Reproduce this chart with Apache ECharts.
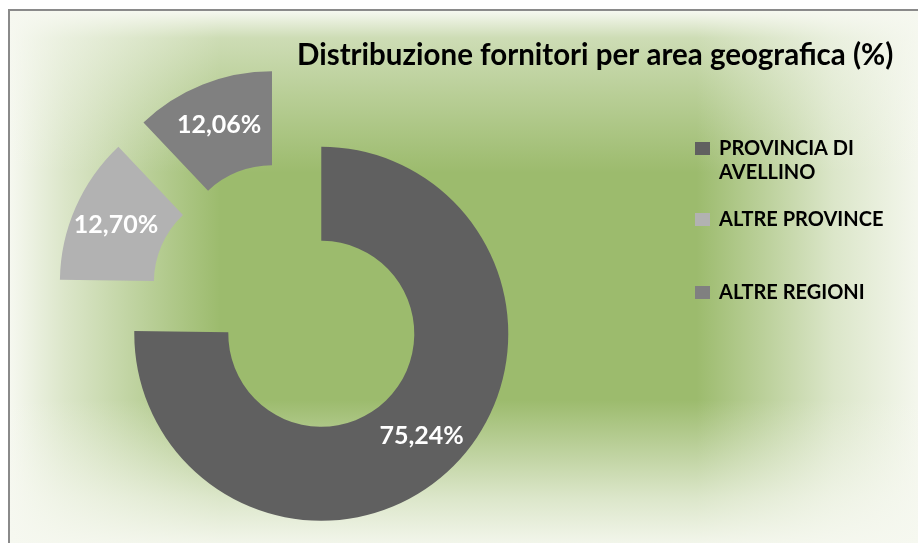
<!DOCTYPE html>
<html>
<head>
<meta charset="utf-8">
<script src="https://cdn.jsdelivr.net/npm/echarts@6/dist/echarts.min.js"></script>
<style>
  html, body { margin: 0; padding: 0; background: #ffffff; }
</style>
</head>
<body>

<div id="main" style="width: 918px;height:543px;"></div>

<script type="text/javascript">
    // dati del grafico
    var categorie = ['PROVINCIA DI AVELLINO', 'ALTRE PROVINCE', 'ALTRE REGIONI'];
    var valori = [75.24, 12.70, 12.06];
    var colori = ['#606060', '#b2b2b2', '#808080'];

    var bianco = function (a) { return 'rgba(246,248,240,' + a + ')'; };

    var myChart = echarts.init(document.getElementById('main'));

    var option = {
        animation: false,
        backgroundColor: '#ffffff',
        title: {
            text: 'Distribuzione fornitori per area geografica (%)',
            left: 297,
            top: 40,
            padding: 0,
            textStyle: {
                fontFamily: 'Lato',
                fontWeight: 'bold',
                fontSize: 29.5,
                color: '#000000'
            }
        },
        graphic: [
            {
                type: 'rect',
                z: -10,
                shape: {x: 10, y: 11, width: 915, height: 540},
                style: {fill: '#9cbb6d'}
            },
            {
                type: 'rect',
                z: -9,
                shape: {x: 10, y: 11, width: 915, height: 540},
                style: {
                    fill: new echarts.graphic.LinearGradient(0, 0, 1, 0, [
                        {offset: 0, color: bianco(1)},
                        {offset: 0.06, color: bianco(0.7)},
                        {offset: 0.23, color: bianco(0)},
                        {offset: 0.75, color: bianco(0)},
                        {offset: 0.9, color: bianco(0.7)},
                        {offset: 1, color: bianco(1)}
                    ])
                }
            },
            {
                type: 'rect',
                z: -8,
                shape: {x: 10, y: 11, width: 915, height: 540},
                style: {
                    fill: new echarts.graphic.LinearGradient(0, 0, 0, 1, [
                        {offset: 0, color: bianco(1)},
                        {offset: 0.05, color: bianco(0.55)},
                        {offset: 0.3, color: bianco(0)},
                        {offset: 0.72, color: bianco(0)},
                        {offset: 0.9, color: bianco(0.7)},
                        {offset: 1, color: bianco(1)}
                    ])
                }
            },
            {
                type: 'rect',
                z: -7,
                shape: {x: 9, y: 10, width: 1000, height: 1000},
                style: {fill: 'none', stroke: '#8a8a8a', lineWidth: 2}
            }
        ],
        legend: [0, 1, 2].map(function (i) {
            var tops = [112.5, 207.5, 280.5];
            return {
                data: [categorie[i]],
                left: 695,
                top: tops[i],
                padding: 0,
                icon: 'rect',
                itemWidth: 15,
                itemHeight: 13,
                selectedMode: false,
                formatter: function (name) {
                    // riga vuota iniziale: la prima riga del testo resta allineata al quadratino
                    return name === 'PROVINCIA DI AVELLINO' ? '\nPROVINCIA DI\nAVELLINO' : name;
                },
                textStyle: {
                    fontFamily: 'Lato',
                    fontWeight: 'bold',
                    fontSize: 20,
                    lineHeight: 24,
                    color: '#000000',
                    padding: [0, 0, 0, 4]
                }
            };
        }),
        series: [
            {
                name: 'Distribuzione fornitori',
                type: 'pie',
                center: [289, 301],
                radius: [93, 187],
                startAngle: 90,
                clockwise: true,
                selectedMode: 'multiple',
                selectedOffset: 46,
                label: {
                    show: true,
                    position: 'inside',
                    color: '#ffffff',
                    fontFamily: 'Lato',
                    fontWeight: 'bold',
                    fontSize: 25,
                    formatter: function (p) {
                        return p.value.toFixed(2).replace('.', ',') + '%';
                    }
                },
                labelLine: {show: false},
                emphasis: {scale: false},
                data: categorie.map(function (c, i) {
                    return {
                        name: c,
                        value: valori[i],
                        selected: true,
                        itemStyle: {color: colori[i]}
                    };
                })
            }
        ]
    };

    myChart.setOption(option);
</script>
</body>
</html>
